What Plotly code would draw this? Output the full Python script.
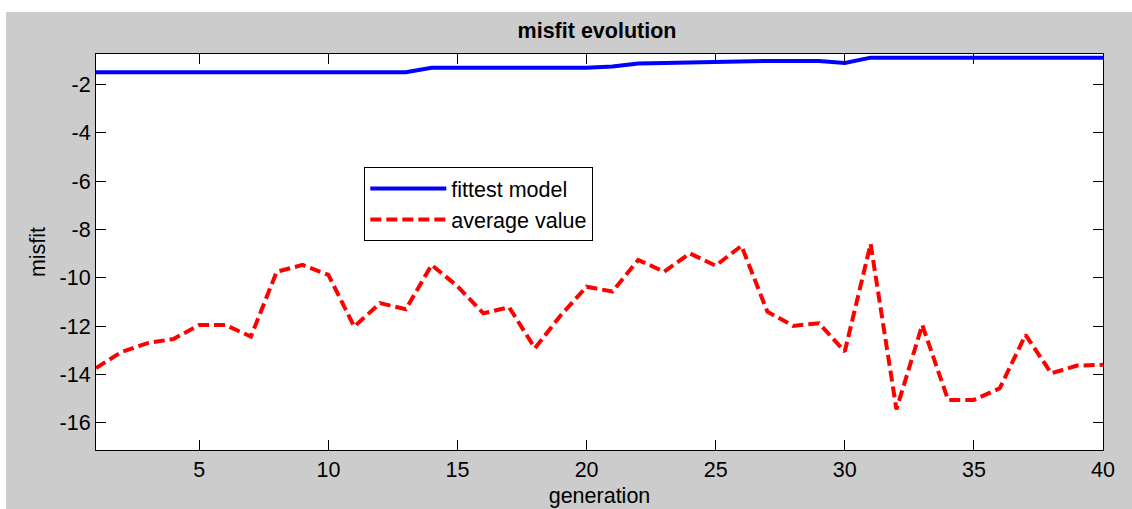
import plotly.graph_objects as go

generation = list(range(1, 41))
fittest_model = [-1.5] * 13 + [-1.32] * 7 + [-1.27, -1.14, -1.12, -1.1, -1.04, -1.04, -1.04, -1.04, -1.04, -1.12] + [-0.9] * 10
average_value = [-13.73, -13.06, -12.7, -12.53, -11.95, -11.95, -12.43, -9.75, -9.47, -9.88,
                 -12.02, -11.05, -11.3, -9.47, -10.35, -11.47, -11.22, -12.91, -11.55, -10.37,
                 -10.57, -9.26, -9.75, -8.99, -9.5, -8.68, -11.4, -11.99, -11.88, -13.05,
                 -8.6, -15.44, -11.95, -15.05, -15.05, -14.57, -12.36, -13.95, -13.63, -13.6]
x_ticks = [5, 10, 15, 20, 25, 30, 35, 40]
y_ticks = [-16, -14, -12, -10, -8, -6, -4, -2]

FONT = "Liberation Sans, Arial, sans-serif"
FS = 21.5

fig = go.Figure()
fig.add_trace(go.Scatter(x=generation, y=fittest_model, mode="lines", name="fittest model",
                         line=dict(color="#0000ff", width=4)))
fig.add_trace(go.Scatter(x=generation, y=average_value, mode="lines", name="average value",
                         line=dict(color="#ff0000", width=4, dash="11px,5px")))

axis_common = dict(showline=True, linecolor="black", linewidth=1, mirror="ticks",
                   ticks="inside", ticklen=10, tickcolor="black", tickwidth=1,
                   showgrid=False, zeroline=False, automargin=False,
                   tickfont=dict(family=FONT, size=FS, color="black"))

fig.update_layout(
    width=1132, height=509,
    margin=dict(l=96, r=29, t=54, b=59),
    paper_bgcolor="#cccccc", plot_bgcolor="white",
    font=dict(family=FONT, size=FS, color="black"),
    title=dict(text="<b>misfit evolution</b>", x=597 / 1132, xanchor="center",
               y=1 - 30 / 509, yanchor="middle", font=dict(family=FONT, size=FS)),
    xaxis=dict(range=[1, 40], tickvals=x_ticks, ticktext=[str(v) for v in x_ticks], **axis_common,
               title=dict(text="generation", standoff=7, font=dict(family=FONT, size=FS))),
    yaxis=dict(range=[-17.12, -0.75], tickvals=y_ticks, ticktext=[str(v) for v in y_ticks], **axis_common,
               title=dict(text="misfit", standoff=8, font=dict(family=FONT, size=FS))),
    legend=dict(x=(364.3 - 96) / 1007, y=(450 - 167) / 396, xanchor="left", yanchor="top",
                bgcolor="white", bordercolor="black", borderwidth=1,
                font=dict(family=FONT, size=FS), itemwidth=76, tracegroupgap=0),
    shapes=[
        dict(type="rect", xref="paper", yref="paper", x0=-0.2, x1=1.2,
             y0=(450 - 12) / 396, y1=1.3, fillcolor="white", line=dict(width=0), layer="above"),
        dict(type="rect", xref="paper", yref="paper", x0=-0.2, x1=(6 - 96) / 1007,
             y0=-0.3, y1=1.3, fillcolor="white", line=dict(width=0), layer="above"),
    ],
)

fig.write_html("out.html", config=dict(displayModeBar=False),
               post_script="document.body.style.margin='0';document.body.style.overflow='hidden';")
